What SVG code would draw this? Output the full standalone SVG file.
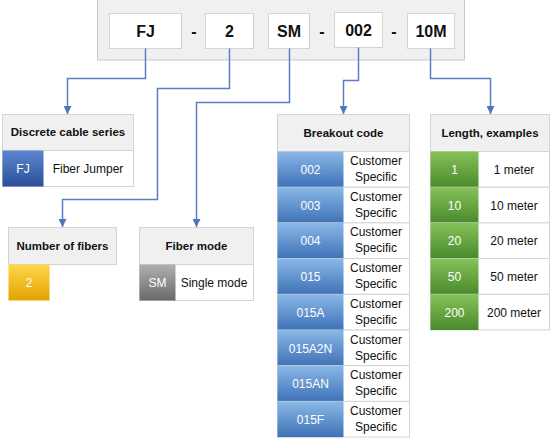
<svg xmlns="http://www.w3.org/2000/svg" width="552" height="442" viewBox="0 0 552 442">
<defs>
<linearGradient id="gBlue" x1="0" y1="0" x2="0" y2="1"><stop offset="0" stop-color="#8ab8e6"/><stop offset="1" stop-color="#3f72b8"/></linearGradient>
<linearGradient id="gDark" x1="0" y1="0" x2="0" y2="1"><stop offset="0" stop-color="#5b87d0"/><stop offset="1" stop-color="#2b4f98"/></linearGradient>
<linearGradient id="gYel" x1="0" y1="0" x2="0" y2="1"><stop offset="0" stop-color="#ffd64a"/><stop offset="1" stop-color="#e0a300"/></linearGradient>
<linearGradient id="gGray" x1="0" y1="0" x2="0" y2="1"><stop offset="0" stop-color="#b0b0b0"/><stop offset="1" stop-color="#6a6a6a"/></linearGradient>
<linearGradient id="gGreen" x1="0" y1="0" x2="0" y2="1"><stop offset="0" stop-color="#86c25a"/><stop offset="1" stop-color="#4a8a2c"/></linearGradient>
<marker id="arr" viewBox="0 0 10 10" refX="10" refY="5" markerWidth="8" markerHeight="8" markerUnits="userSpaceOnUse" orient="auto"><path d="M0,0 L10,5 L0,10 z" fill="#4f74be"/></marker>
</defs>
<style>
.frame{fill:#f0f0f0;stroke:#c8c8c8;stroke-width:1}
.code{fill:#ffffff;stroke:#d4d4d4;stroke-width:1}
.codet{font-family:"Liberation Sans",Arial,sans-serif;font-weight:bold;font-size:16px;fill:#111;text-anchor:middle}
.hdr{fill:#f0f0f0;stroke:#d4d4d4;stroke-width:1}
.cell{fill:#ffffff;stroke:#d4d4d4;stroke-width:1}
.ht{font-family:"Liberation Sans",Arial,sans-serif;font-weight:bold;font-size:11.5px;fill:#111;text-anchor:middle}
.t{font-family:"Liberation Sans",Arial,sans-serif;font-size:12px;fill:#111;text-anchor:middle}
.sw{font-family:"Liberation Sans",Arial,sans-serif;font-size:12px;fill:#ffffff;text-anchor:middle}
.conn{fill:none;stroke:#5b7fc4;stroke-width:1.5}
</style>
<g id="code-bar">
<rect class="frame" x="97.5" y="-1" width="367" height="61"/>
<rect class="code" x="109.5" y="13.5" width="72" height="35"/><text class="codet" x="145.5" y="37">FJ</text>
<text class="codet" x="194" y="37">-</text>
<rect class="code" x="205.5" y="13.5" width="48" height="35"/><text class="codet" x="229.5" y="37">2</text>
<rect class="code" x="268.5" y="13.5" width="41" height="35"/><text class="codet" x="289" y="37">SM</text>
<text class="codet" x="322" y="37">-</text>
<rect class="code" x="334.5" y="12.5" width="48" height="35"/><text class="codet" x="358.5" y="36">002</text>
<text class="codet" x="394" y="37">-</text>
<rect class="code" x="407.5" y="13.5" width="47" height="35"/><text class="codet" x="431" y="37">10M</text>
</g>
<g id="connectors">
<path class="conn" d="M145.5,48.5 V78.5 H67.5 V114" marker-end="url(#arr)"/>
<path class="conn" d="M229.5,48.5 V88.5 H157.5 V199.5 H62.5 V227" marker-end="url(#arr)"/>
<path class="conn" d="M289.5,48.5 V102.5 H196.5 V227" marker-end="url(#arr)"/>
<path class="conn" d="M358.5,47.5 V80.5 H343.5 V114" marker-end="url(#arr)"/>
<path class="conn" d="M430.5,48.5 V78.5 H490.5 V114" marker-end="url(#arr)"/>
</g>
<g id="discrete-cable-series">
<rect class="hdr" x="2.5" y="114.5" width="131" height="36"/><text class="ht" x="68" y="136">Discrete cable series</text>
<rect class="cell" x="2.5" y="150.5" width="131" height="36"/>
<rect x="2.5" y="150.5" width="41" height="36" fill="url(#gDark)"/><text class="sw" x="23" y="173">FJ</text>
<text class="t" x="88" y="173">Fiber Jumper</text>
</g>
<g id="number-of-fibers">
<rect class="hdr" x="8.5" y="227.5" width="108" height="37"/><text class="ht" x="62.5" y="250">Number of fibers</text>
<rect x="8.5" y="264.5" width="41" height="36" fill="url(#gYel)"/><text class="sw" x="29" y="287">2</text>
</g>
<g id="fiber-mode">
<rect class="hdr" x="139.5" y="227.5" width="114" height="37"/><text class="ht" x="196.5" y="250">Fiber mode</text>
<rect class="cell" x="139.5" y="264.5" width="114" height="36"/>
<rect x="139.5" y="264.5" width="36" height="36" fill="url(#gGray)"/><text class="sw" x="157.5" y="287">SM</text>
<text class="t" x="214" y="287">Single mode</text>
</g>
<g id="breakout-code">
<rect class="hdr" x="277.5" y="114.5" width="132" height="37"/><text class="ht" x="343.5" y="137">Breakout code</text>
<g transform="translate(0,0)">
<rect class="cell" x="277.5" y="151.5" width="132" height="35.7"/><rect x="277.5" y="151.5" width="66" height="35.7" fill="url(#gBlue)"/><text class="sw" x="310.5" y="174">002</text><text class="t" x="376" y="165">Customer</text><text class="t" x="376" y="181">Specific</text>
</g>
<g transform="translate(0,35.7)">
<rect class="cell" x="277.5" y="151.5" width="132" height="35.7"/><rect x="277.5" y="151.5" width="66" height="35.7" fill="url(#gBlue)"/><text class="sw" x="310.5" y="174">003</text><text class="t" x="376" y="165">Customer</text><text class="t" x="376" y="181">Specific</text>
</g>
<g transform="translate(0,71.4)">
<rect class="cell" x="277.5" y="151.5" width="132" height="35.7"/><rect x="277.5" y="151.5" width="66" height="35.7" fill="url(#gBlue)"/><text class="sw" x="310.5" y="174">004</text><text class="t" x="376" y="165">Customer</text><text class="t" x="376" y="181">Specific</text>
</g>
<g transform="translate(0,107.1)">
<rect class="cell" x="277.5" y="151.5" width="132" height="35.7"/><rect x="277.5" y="151.5" width="66" height="35.7" fill="url(#gBlue)"/><text class="sw" x="310.5" y="174">015</text><text class="t" x="376" y="165">Customer</text><text class="t" x="376" y="181">Specific</text>
</g>
<g transform="translate(0,142.8)">
<rect class="cell" x="277.5" y="151.5" width="132" height="35.7"/><rect x="277.5" y="151.5" width="66" height="35.7" fill="url(#gBlue)"/><text class="sw" x="310.5" y="174">015A</text><text class="t" x="376" y="165">Customer</text><text class="t" x="376" y="181">Specific</text>
</g>
<g transform="translate(0,178.5)">
<rect class="cell" x="277.5" y="151.5" width="132" height="35.7"/><rect x="277.5" y="151.5" width="66" height="35.7" fill="url(#gBlue)"/><text class="sw" x="310.5" y="174">015A2N</text><text class="t" x="376" y="165">Customer</text><text class="t" x="376" y="181">Specific</text>
</g>
<g transform="translate(0,214.2)">
<rect class="cell" x="277.5" y="151.5" width="132" height="35.7"/><rect x="277.5" y="151.5" width="66" height="35.7" fill="url(#gBlue)"/><text class="sw" x="310.5" y="174">015AN</text><text class="t" x="376" y="165">Customer</text><text class="t" x="376" y="181">Specific</text>
</g>
<g transform="translate(0,249.9)">
<rect class="cell" x="277.5" y="151.5" width="132" height="35.7"/><rect x="277.5" y="151.5" width="66" height="35.7" fill="url(#gBlue)"/><text class="sw" x="310.5" y="174">015F</text><text class="t" x="376" y="165">Customer</text><text class="t" x="376" y="181">Specific</text>
</g>
</g>
<g id="length-examples">
<rect class="hdr" x="430.5" y="114.5" width="119" height="37"/><text class="ht" x="490" y="137">Length, examples</text>
<rect class="cell" x="430.5" y="151.5" width="119" height="35.7"/><rect x="430.5" y="151.5" width="48" height="35.7" fill="url(#gGreen)"/><text class="sw" x="454.5" y="174">1</text><text class="t" x="514" y="174">1 meter</text>
<rect class="cell" x="430.5" y="187.2" width="119" height="35.7"/><rect x="430.5" y="187.2" width="48" height="35.7" fill="url(#gGreen)"/><text class="sw" x="454.5" y="210">10</text><text class="t" x="514" y="210">10 meter</text>
<rect class="cell" x="430.5" y="222.9" width="119" height="35.7"/><rect x="430.5" y="222.9" width="48" height="35.7" fill="url(#gGreen)"/><text class="sw" x="454.5" y="245">20</text><text class="t" x="514" y="245">20 meter</text>
<rect class="cell" x="430.5" y="258.6" width="119" height="35.7"/><rect x="430.5" y="258.6" width="48" height="35.7" fill="url(#gGreen)"/><text class="sw" x="454.5" y="281">50</text><text class="t" x="514" y="281">50 meter</text>
<rect class="cell" x="430.5" y="294.3" width="119" height="35.7"/><rect x="430.5" y="294.3" width="48" height="35.7" fill="url(#gGreen)"/><text class="sw" x="454.5" y="317">200</text><text class="t" x="514" y="317">200 meter</text>
</g>
</svg>
